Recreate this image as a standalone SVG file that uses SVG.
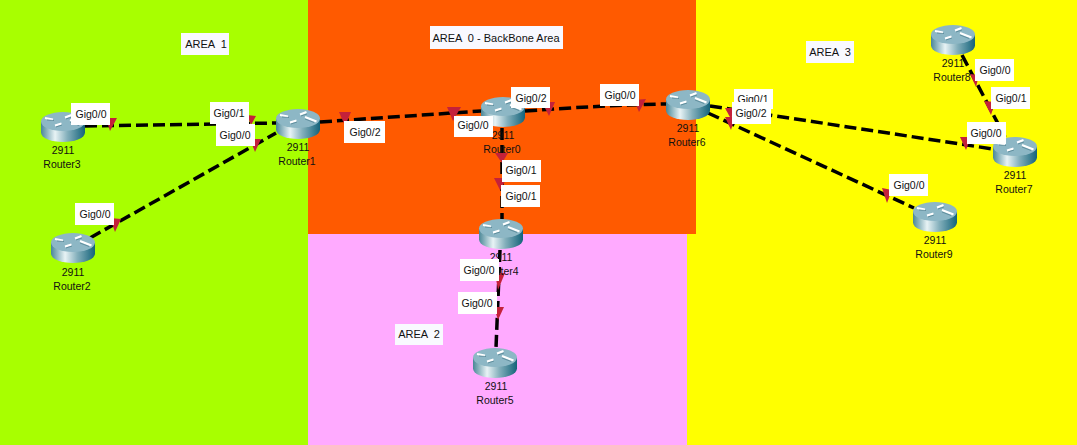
<svg xmlns="http://www.w3.org/2000/svg" width="1077" height="445" viewBox="0 0 1077 445">
<style>
text{font-family:"Liberation Sans",Arial,sans-serif;font-size:10.5px;fill:#111}
.nm{text-anchor:middle}
.lb rect{fill:#fff}
.lb text{text-anchor:middle}
.ar text{font-size:11px;white-space:pre;text-anchor:middle}
.ar rect{fill:#f9f9ff}
.ln{fill:none;stroke:#000;stroke-width:3.500;stroke-dasharray:12 5}
.tr{fill:#c4213a}
</style>
<defs>
<linearGradient id="side" x1="0" x2="1" y1="0" y2="0">
<stop offset="0" stop-color="#4a8797"/><stop offset="0.32" stop-color="#e8f3f5"/><stop offset="0.6" stop-color="#83afbb"/><stop offset="1" stop-color="#14637a"/>
</linearGradient>
<g id="router">
<path d="M0 9.500V20.500A22 9.500 0 0 0 44 20.500V9.500Z" fill="url(#side)"/>
<ellipse cx="22" cy="9.500" rx="22" ry="9.500" fill="#8db7c5"/>
<path d="M4 6L12 7.500M14 13.500L20.500 11.500M24 5.500L30.500 3M29 8L40.500 12.500" stroke="#fff" stroke-width="2" fill="none"/>
<path d="M13 8.500L6 8M15 15L21 13M25 7L31 5M29 10L38 13.500" stroke="#4d7d8c" stroke-width="0.700" fill="none"/>
</g>
</defs>
<g id="areas">
<rect x="0" y="0" width="308" height="445" fill="#a8ff00"/>
<rect x="308" y="0" width="388" height="234" fill="#ff5a00"/>
<rect x="308" y="234" width="379" height="211" fill="#ffaaff"/>
<rect x="696" y="0" width="381" height="234" fill="#ffff00"/>
<rect x="687" y="234" width="390" height="211" fill="#ffff00"/>
</g>
<g id="connectors">
<path class="ln" d="M85 126L276 123"/>
<path class="ln" d="M90 238L276 133"/>
<path class="ln" d="M320 122L481 111"/>
<path class="ln" d="M525 111C580 107 620 105 666 104"/>
<path class="ln" d="M502 128V219"/>
<path class="ln" d="M500 250L496 348"/>
<path class="ln" d="M710 106L993 149"/>
<path class="ln" d="M708 113L914 208"/>
<path class="ln" d="M962 55L1005 137"/>
<polygon class="tr" points="106,118 117,118 110,131"/>
<polygon class="tr" points="247,115 256,116 251,125"/>
<polygon class="tr" points="250,139 261,139 255,152"/>
<polygon class="tr" points="110,218 121,219 115,232"/>
<polygon class="tr" points="339,112 351,112 345,126"/>
<polygon class="tr" points="447,107 461,107 453,121"/>
<polygon class="tr" points="542,102 555,102 549,116"/>
<polygon class="tr" points="634,100 646,99 639,112"/>
<polygon class="tr" points="495,153 508,153 502,163"/>
<polygon class="tr" points="494,178 507,178 500,190"/>
<polygon class="tr" points="495,273 505,273 498,290"/>
<polygon class="tr" points="494,307 504,307 498,320"/>
<polygon class="tr" points="725,108 735,108 731,119"/>
<polygon class="tr" points="725,117 735,117 731,130"/>
<polygon class="tr" points="960,137 971,137 966,150"/>
<polygon class="tr" points="882,188 892,190 887,203"/>
<polygon class="tr" points="970,74 979,75 976,87"/>
<polygon class="tr" points="984,101 995,102 991,115"/>
</g>
<g id="Router3"><use href="#router" x="41" y="112"/><text class="nm" x="63" y="154">2911</text><text class="nm" x="62" y="168">Router3</text></g>
<g id="Router1"><use href="#router" x="276" y="109"/><text class="nm" x="298" y="151">2911</text><text class="nm" x="297" y="165">Router1</text></g>
<g id="Router2"><use href="#router" x="51" y="233"/><text class="nm" x="73" y="276">2911</text><text class="nm" x="72" y="290">Router2</text></g>
<g id="Router0"><use href="#router" x="481" y="97"/><text class="nm" x="503" y="139">2911</text><text class="nm" x="502" y="153">Router0</text></g>
<g id="Router6"><use href="#router" x="666" y="90"/><text class="nm" x="688" y="132">2911</text><text class="nm" x="687" y="146">Router6</text></g>
<g id="Router8"><use href="#router" x="931" y="25"/><text class="nm" x="953" y="67">2911</text><text class="nm" x="952" y="81">Router8</text></g>
<g id="Router7"><use href="#router" x="993" y="137"/><text class="nm" x="1015" y="179">2911</text><text class="nm" x="1014" y="193">Router7</text></g>
<g id="Router9"><use href="#router" x="913" y="202"/><text class="nm" x="935" y="244">2911</text><text class="nm" x="934" y="258">Router9</text></g>
<g id="Router4"><use href="#router" x="479" y="219"/><text class="nm" x="501" y="261">2911</text><text class="nm" x="500" y="275">Router4</text></g>
<g id="Router5"><use href="#router" x="473" y="348"/><text class="nm" x="496" y="390">2911</text><text class="nm" x="495" y="404">Router5</text></g>
<g id="labels" class="lb">
<rect x="71" y="103" width="39" height="22"/><text x="91" y="118">Gig0/0</text>
<rect x="210" y="102" width="39" height="22"/><text x="229" y="117">Gig0/1</text>
<rect x="216" y="124" width="39" height="22"/><text x="235" y="139">Gig0/0</text>
<rect x="75" y="203" width="39" height="22"/><text x="95" y="218">Gig0/0</text>
<rect x="344" y="121" width="41" height="22"/><text x="365" y="136">Gig0/2</text>
<rect x="454" y="116" width="39" height="21"/><text x="473" y="129">Gig0/0</text>
<rect x="511" y="87" width="39" height="21"/><text x="531" y="102">Gig0/2</text>
<rect x="600" y="84" width="39" height="22"/><text x="620" y="99">Gig0/0</text>
<rect x="502" y="160" width="39" height="22"/><text x="521" y="174">Gig0/1</text>
<rect x="501" y="185" width="39" height="22"/><text x="521" y="200">Gig0/1</text>
<rect x="460" y="259" width="39" height="22"/><text x="479" y="274">Gig0/0</text>
<rect x="458" y="292" width="39" height="22"/><text x="477" y="307">Gig0/0</text>
<rect x="734" y="89" width="39" height="20"/><text x="753" y="103">Gig0/1</text>
<rect x="732" y="102" width="39" height="22"/><text x="751" y="117">Gig0/2</text>
<rect x="975" y="59" width="39" height="22"/><text x="995" y="74">Gig0/0</text>
<rect x="991" y="87" width="39" height="22"/><text x="1011" y="102">Gig0/1</text>
<rect x="967" y="122" width="39" height="22"/><text x="986" y="137">Gig0/0</text>
<rect x="889" y="174" width="39" height="22"/><text x="909" y="189">Gig0/0</text>
</g>
<g id="area-labels" class="ar">
<rect x="181" y="33" width="48" height="22"/><text x="206" y="48">AREA  1</text>
<rect x="430" y="26" width="133" height="23"/><text x="496" y="42">AREA  0 - BackBone Area</text>
<rect x="806" y="41" width="48" height="22"/><text x="830" y="56">AREA  3</text>
<rect x="395" y="324" width="48" height="21"/><text x="419" y="338">AREA  2</text>
</g>
</svg>
